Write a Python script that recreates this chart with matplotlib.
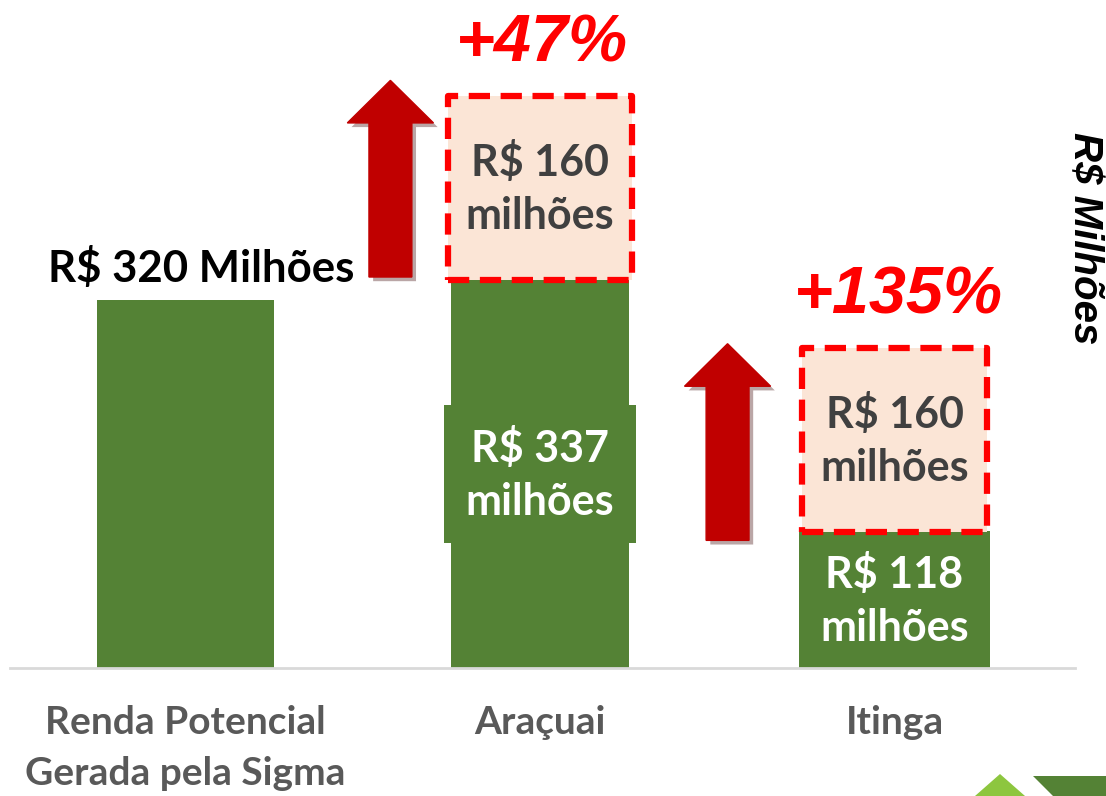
import matplotlib
matplotlib.use('Agg')
import matplotlib.pyplot as plt
from matplotlib.patches import FancyArrow, Polygon
import matplotlib.patheffects as pe

# dados
categorias = ['Renda Potencial\nGerada pela Sigma', 'Araçuai', 'Itinga']
base = [320, 337, 118]
acrescimo = [0, 160, 160]
rotulos_base = ['R$ 320 Milhões', 'R$ 337\nmilhões', 'R$ 118\nmilhões']
rotulos_acrescimo = ['', 'R$ 160\nmilhões', 'R$ 160\nmilhões']
variacao = ['', '+47%', '+135%']

verde = '#548235'
pessego = '#FBE5D6'
vermelho = '#FF0000'
vermelho_escuro = '#C00000'

plt.rcParams['font.family'] = ['Lato', 'DejaVu Sans']

fig = plt.figure(figsize=(11.06, 7.96), dpi=100)
ax = fig.add_axes([10/1106, 128/796, 1065/1106, 668/796])

x = list(range(len(categorias)))
ax.bar(x, base, width=0.5, color=verde, zorder=2)

# caixas tracejadas do acréscimo
for i in x:
    if acrescimo[i] == 0:
        continue
    ax.bar(i, acrescimo[i], bottom=base[i], width=0.52, color=pessego,
           edgecolor=vermelho, linestyle=(0, (3.4, 1.7)), linewidth=4.5,
           joinstyle='round', zorder=3)
    ax.text(i, base[i] + acrescimo[i] / 2, rotulos_acrescimo[i], ha='center',
            va='center', fontsize=31, fontweight='bold', color='#404040',
            linespacing=1.4, zorder=4)
    ax.text(i + 0.005 * i, base[i] + acrescimo[i] + 30, variacao[i], ha='center',
            va='baseline', fontsize=48, fontweight='bold', style='italic',
            color=vermelho, family='Liberation Sans')

# rótulos das barras
ax.text(0.045, base[0] + 16, rotulos_base[0], ha='center', va='baseline',
        fontsize=31.5, fontweight='bold', color='black')
for i in x[1:]:
    ax.text(i, base[i] / 2, rotulos_base[i], ha='center', va='center',
            fontsize=31, fontweight='bold', color='white', linespacing=1.4,
            zorder=2.5,
            bbox=dict(boxstyle='square,pad=0.5', fc=verde, ec='none'))

# setas
seta_x = [0.578, 1.529]
seta_base = [340, 111]
seta_comp = 171
for sx, sb in zip(seta_x, seta_base):
    seta = FancyArrow(sx, sb, 0, seta_comp, width=0.121, head_width=0.243,
                      head_length=37, length_includes_head=True,
                      color=vermelho_escuro, zorder=5)
    seta.set_path_effects([pe.SimplePatchShadow(offset=(3, -3), alpha=0.35),
                           pe.Normal()])
    ax.add_patch(seta)

ax.set_xlim(-0.495, 2.509)
ax.set_ylim(0, 580.9)
ax.set_xticks(x)
ax.set_xticklabels(categorias, fontsize=28, fontweight='bold', color='#595959',
                   linespacing=1.55)
ax.tick_params(axis='x', length=0, pad=27)
ax.set_yticks([])
for lado in ['top', 'right', 'left']:
    ax.spines[lado].set_visible(False)
ax.spines['bottom'].set_color('#D9D9D9')
ax.spines['bottom'].set_linewidth(2)
ax.patch.set_alpha(0)

fig.text(1085/1106, (796 - 238)/796, 'R$ Milhões', rotation=-90, ha='center',
         va='center', fontsize=29, fontweight='bold', style='italic',
         family='Liberation Sans', color='black')

# logo no canto
fig.patches.append(Polygon([[975, 0], [1000, 22], [1025, 0]], closed=True,
                           transform=None, fc='#8DC63F', ec='none'))
fig.patches.append(Polygon([[1033, 20], [1106, 20], [1106, 0], [1053, 0]],
                           closed=True, transform=None, fc=verde, ec='none'))

fig.savefig('out.png', dpi=100)
